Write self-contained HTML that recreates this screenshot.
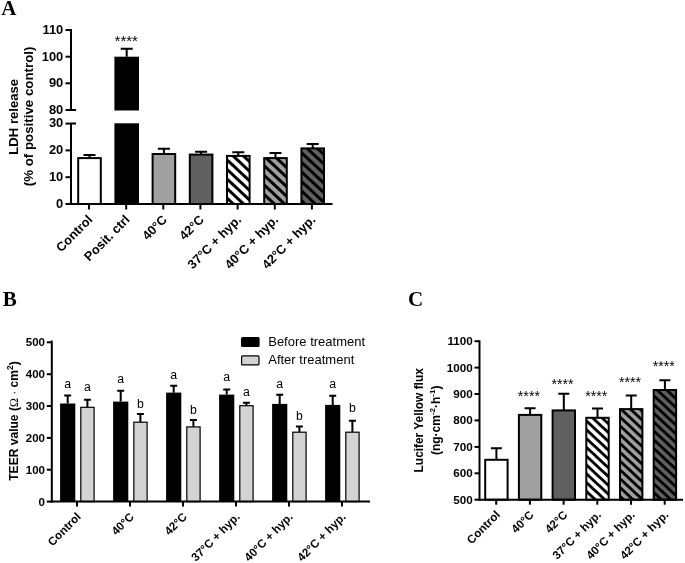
<!DOCTYPE html><html><head><meta charset="utf-8"><title>Figure</title>
<style>html,body{margin:0;padding:0;background:#fff}svg{display:block}text{font-family:'Liberation Sans',Arial,sans-serif;fill:#000}.ser{font-family:"Liberation Serif","Times New Roman",serif}</style></head><body>
<svg width="685" height="563" viewBox="0 0 685 563">
<rect width="685" height="563" fill="#fff"/>
<defs>
<pattern id="ha1" patternUnits="userSpaceOnUse" width="40" height="7.0" patternTransform="translate(0 3.5) rotate(43)"><rect width="40" height="7.0" fill="#fff"/><rect width="40" height="3.0" fill="#000"/></pattern>
<pattern id="ha2" patternUnits="userSpaceOnUse" width="40" height="7.0" patternTransform="translate(0 3.5) rotate(43)"><rect width="40" height="7.0" fill="#a0a0a0"/><rect width="40" height="3.0" fill="#000"/></pattern>
<pattern id="ha3" patternUnits="userSpaceOnUse" width="40" height="7.0" patternTransform="translate(0 3.5) rotate(43)"><rect width="40" height="7.0" fill="#606060"/><rect width="40" height="3.0" fill="#000"/></pattern>
<pattern id="hc1" patternUnits="userSpaceOnUse" width="40" height="6.44" patternTransform="translate(0 4.2) rotate(43)"><rect width="40" height="6.44" fill="#fff"/><rect width="40" height="2.85" fill="#000"/></pattern>
<pattern id="hc2" patternUnits="userSpaceOnUse" width="40" height="6.44" patternTransform="translate(0 4.2) rotate(43)"><rect width="40" height="6.44" fill="#a0a0a0"/><rect width="40" height="2.85" fill="#000"/></pattern>
<pattern id="hc3" patternUnits="userSpaceOnUse" width="40" height="6.44" patternTransform="translate(0 4.2) rotate(43)"><rect width="40" height="6.44" fill="#606060"/><rect width="40" height="2.85" fill="#000"/></pattern>
</defs>
<text class="ser" x="1.3" y="15.3" font-size="21" font-weight="bold">A</text>
<text class="ser" x="2.8" y="305.5" font-size="21" font-weight="bold">B</text>
<text class="ser" x="408" y="305.5" font-size="21" font-weight="bold">C</text>
<path d="M89.5 158.06799999999998V154.88799999999998M83.5 154.88799999999998H95.5" stroke="#000" stroke-width="2" fill="none"/>
<rect x="78.2" y="158.1" width="22.6" height="45.9" fill="#fff" stroke="#000" stroke-width="2"/>
<path d="M126.7 56.660000000000004V48.659000000000006M120.7 48.659000000000006H132.7" stroke="#000" stroke-width="2" fill="none"/>
<rect x="114.4" y="56.7" width="24.6" height="53.8" fill="#000"/>
<rect x="114.4" y="123.3" width="24.6" height="80.7" fill="#000"/>
<path d="M163.9 154.048V148.724M157.9 148.724H169.9" stroke="#000" stroke-width="2" fill="none"/>
<rect x="152.6" y="154.0" width="22.6" height="50.0" fill="#a0a0a0" stroke="#000" stroke-width="2"/>
<path d="M201.10000000000002 154.584V151.67199999999997M195.10000000000002 151.67199999999997H207.10000000000002" stroke="#000" stroke-width="2" fill="none"/>
<rect x="189.8" y="154.6" width="22.6" height="49.4" fill="#606060" stroke="#000" stroke-width="2"/>
<path d="M238.3 155.92399999999998V152.208M232.3 152.208H244.3" stroke="#000" stroke-width="2" fill="none"/>
<rect x="227.0" y="155.9" width="22.6" height="48.1" fill="url(#ha1)" stroke="#000" stroke-width="2"/>
<path d="M275.5 158.06799999999998V153.01199999999997M269.5 153.01199999999997H281.5" stroke="#000" stroke-width="2" fill="none"/>
<rect x="264.2" y="158.1" width="22.6" height="45.9" fill="url(#ha2)" stroke="#000" stroke-width="2"/>
<path d="M312.70000000000005 148.42V143.89999999999998M306.70000000000005 143.89999999999998H318.70000000000005" stroke="#000" stroke-width="2" fill="none"/>
<rect x="301.4" y="148.4" width="22.6" height="55.6" fill="url(#ha3)" stroke="#000" stroke-width="2"/>
<path d="M71 29V111M71 123V205.0" stroke="#000" stroke-width="2" fill="none"/>
<path d="M70 204.0H332.5" stroke="#000" stroke-width="2" fill="none"/>
<path d="M65.5 110.0H71" stroke="#000" stroke-width="2"/>
<text transform="translate(63.3 113.8) scale(1.06 1)" font-size="12.2" font-weight="bold" text-anchor="end">80</text>
<path d="M65.5 83.3H71" stroke="#000" stroke-width="2"/>
<text transform="translate(63.3 87.1) scale(1.06 1)" font-size="12.2" font-weight="bold" text-anchor="end">90</text>
<path d="M65.5 56.7H71" stroke="#000" stroke-width="2"/>
<text transform="translate(63.3 60.5) scale(1.06 1)" font-size="12.2" font-weight="bold" text-anchor="end">100</text>
<path d="M65.5 30.0H71" stroke="#000" stroke-width="2"/>
<text transform="translate(63.3 33.8) scale(1.06 1)" font-size="12.2" font-weight="bold" text-anchor="end">110</text>
<path d="M65.5 204.0H71" stroke="#000" stroke-width="2"/>
<text transform="translate(63.3 207.8) scale(1.06 1)" font-size="12.2" font-weight="bold" text-anchor="end">0</text>
<path d="M65.5 177.2H71" stroke="#000" stroke-width="2"/>
<text transform="translate(63.3 181.0) scale(1.06 1)" font-size="12.2" font-weight="bold" text-anchor="end">10</text>
<path d="M65.5 150.4H71" stroke="#000" stroke-width="2"/>
<text transform="translate(63.3 154.2) scale(1.06 1)" font-size="12.2" font-weight="bold" text-anchor="end">20</text>
<path d="M65.5 123.6H71" stroke="#000" stroke-width="2"/>
<text transform="translate(63.3 127.4) scale(1.06 1)" font-size="12.2" font-weight="bold" text-anchor="end">30</text>
<path d="M71 110.0H76M71 123.6H76" stroke="#000" stroke-width="2"/>
<path d="M89.0 204.0V209.5" stroke="#000" stroke-width="2"/>
<path d="M126.2 204.0V209.5" stroke="#000" stroke-width="2"/>
<path d="M163.3 204.0V209.5" stroke="#000" stroke-width="2"/>
<path d="M200.4 204.0V209.5" stroke="#000" stroke-width="2"/>
<path d="M237.6 204.0V209.5" stroke="#000" stroke-width="2"/>
<path d="M274.8 204.0V209.5" stroke="#000" stroke-width="2"/>
<path d="M311.9 204.0V209.5" stroke="#000" stroke-width="2"/>
<text x="93.4" y="220.5" font-size="12.8" font-weight="bold" text-anchor="end" transform="rotate(-45 93.4 220.5)">Control</text>
<text x="130.6" y="220.5" font-size="12.8" font-weight="bold" text-anchor="end" transform="rotate(-45 130.6 220.5)">Posit. ctrl</text>
<text x="167.7" y="220.5" font-size="12.8" font-weight="bold" text-anchor="end" transform="rotate(-45 167.7 220.5)">40°C</text>
<text x="204.8" y="220.5" font-size="12.8" font-weight="bold" text-anchor="end" transform="rotate(-45 204.8 220.5)">42°C</text>
<text x="242.0" y="220.5" font-size="12.8" font-weight="bold" text-anchor="end" transform="rotate(-45 242.0 220.5)">37°C + hyp.</text>
<text x="279.1" y="220.5" font-size="12.8" font-weight="bold" text-anchor="end" transform="rotate(-45 279.1 220.5)">40°C + hyp.</text>
<text x="316.3" y="220.5" font-size="12.8" font-weight="bold" text-anchor="end" transform="rotate(-45 316.3 220.5)">42°C + hyp.</text>
<text x="126.3" y="46" font-size="15" font-weight="normal" text-anchor="middle">****</text>
<text x="18" y="116.8" font-size="13.1" font-weight="bold" text-anchor="middle" transform="rotate(-90 18 116.8)">LDH release</text>
<text x="33" y="116.4" font-size="13.3" font-weight="bold" text-anchor="middle" transform="rotate(-90 33 116.4)">(% of positive control)</text>
<path d="M51.8 340.5V502.6" stroke="#000" stroke-width="2" fill="none"/>
<path d="M67.69999999999999 403.4712V395.50620000000004M64.19999999999999 395.50620000000004H71.19999999999999" stroke="#000" stroke-width="2" fill="none"/>
<rect x="60.1" y="403.5" width="15.2" height="98.1" fill="#000"/>
<path d="M87.4 407.1351V399.648M83.9 399.648H90.9" stroke="#000" stroke-width="2" fill="none"/>
<rect x="80.8" y="407.3" width="13.3" height="94.3" fill="#d3d3d3" stroke="#000" stroke-width="1.2"/>
<text x="67.7" y="388" font-size="12.3" font-weight="normal" text-anchor="middle">a</text>
<text x="87.4" y="391" font-size="12.3" font-weight="normal" text-anchor="middle">a</text>
<path d="M77.0 501.6V506.6" stroke="#000" stroke-width="2"/>
<path d="M120.7 401.55960000000005V390.72720000000004M117.2 390.72720000000004H124.2" stroke="#000" stroke-width="2" fill="none"/>
<rect x="113.1" y="401.6" width="15.2" height="100.0" fill="#000"/>
<path d="M140.4 421.95000000000005V413.985M136.9 413.985H143.9" stroke="#000" stroke-width="2" fill="none"/>
<rect x="133.8" y="422.2" width="13.3" height="79.4" fill="#d3d3d3" stroke="#000" stroke-width="1.2"/>
<text x="120.7" y="382.6" font-size="12.3" font-weight="normal" text-anchor="middle">a</text>
<text x="140.4" y="408.2" font-size="12.3" font-weight="normal" text-anchor="middle">b</text>
<path d="M130.0 501.6V506.6" stroke="#000" stroke-width="2"/>
<path d="M173.70000000000002 392.63880000000006V385.62960000000004M170.20000000000002 385.62960000000004H177.20000000000002" stroke="#000" stroke-width="2" fill="none"/>
<rect x="166.1" y="392.6" width="15.2" height="109.0" fill="#000"/>
<path d="M193.4 426.72900000000004V419.8791M189.9 419.8791H196.9" stroke="#000" stroke-width="2" fill="none"/>
<rect x="186.8" y="426.9" width="13.3" height="74.7" fill="#d3d3d3" stroke="#000" stroke-width="1.2"/>
<text x="173.7" y="379" font-size="12.3" font-weight="normal" text-anchor="middle">a</text>
<text x="193.4" y="413.8" font-size="12.3" font-weight="normal" text-anchor="middle">b</text>
<path d="M183.0 501.6V506.6" stroke="#000" stroke-width="2"/>
<path d="M226.70000000000002 394.5504V389.61210000000005M223.20000000000002 389.61210000000005H230.20000000000002" stroke="#000" stroke-width="2" fill="none"/>
<rect x="219.1" y="394.6" width="15.2" height="107.0" fill="#000"/>
<path d="M246.4 405.5421V402.83400000000006M242.9 402.83400000000006H249.9" stroke="#000" stroke-width="2" fill="none"/>
<rect x="239.8" y="405.7" width="13.3" height="95.9" fill="#d3d3d3" stroke="#000" stroke-width="1.2"/>
<text x="226.7" y="381" font-size="12.3" font-weight="normal" text-anchor="middle">a</text>
<text x="246.4" y="396.2" font-size="12.3" font-weight="normal" text-anchor="middle">a</text>
<path d="M236.0 501.6V506.6" stroke="#000" stroke-width="2"/>
<path d="M279.70000000000005 403.94910000000004V394.869M276.20000000000005 394.869H283.20000000000005" stroke="#000" stroke-width="2" fill="none"/>
<rect x="272.1" y="403.9" width="15.2" height="97.7" fill="#000"/>
<path d="M299.4 431.9859V426.41040000000004M295.9 426.41040000000004H302.9" stroke="#000" stroke-width="2" fill="none"/>
<rect x="292.8" y="432.2" width="13.3" height="69.4" fill="#d3d3d3" stroke="#000" stroke-width="1.2"/>
<text x="279.7" y="387.6" font-size="12.3" font-weight="normal" text-anchor="middle">a</text>
<text x="299.4" y="419.8" font-size="12.3" font-weight="normal" text-anchor="middle">b</text>
<path d="M289.0 501.6V506.6" stroke="#000" stroke-width="2"/>
<path d="M332.70000000000005 404.9049V395.82480000000004M329.20000000000005 395.82480000000004H336.20000000000005" stroke="#000" stroke-width="2" fill="none"/>
<rect x="325.1" y="404.9" width="15.2" height="96.7" fill="#000"/>
<path d="M352.4 431.9859V420.67560000000003M348.9 420.67560000000003H355.9" stroke="#000" stroke-width="2" fill="none"/>
<rect x="345.8" y="432.2" width="13.3" height="69.4" fill="#d3d3d3" stroke="#000" stroke-width="1.2"/>
<text x="332.7" y="388" font-size="12.3" font-weight="normal" text-anchor="middle">a</text>
<text x="352.4" y="412.4" font-size="12.3" font-weight="normal" text-anchor="middle">b</text>
<path d="M342.0 501.6V506.6" stroke="#000" stroke-width="2"/>
<path d="M50.8 501.6H370" stroke="#000" stroke-width="2" fill="none"/>
<path d="M46.8 501.6H51.8" stroke="#000" stroke-width="2"/>
<text transform="translate(45 505.5) scale(1.07 1)" font-size="10.8" font-weight="bold" text-anchor="end">0</text>
<path d="M46.8 469.7H51.8" stroke="#000" stroke-width="2"/>
<text transform="translate(45 473.6) scale(1.07 1)" font-size="10.8" font-weight="bold" text-anchor="end">100</text>
<path d="M46.8 437.9H51.8" stroke="#000" stroke-width="2"/>
<text transform="translate(45 441.8) scale(1.07 1)" font-size="10.8" font-weight="bold" text-anchor="end">200</text>
<path d="M46.8 406.0H51.8" stroke="#000" stroke-width="2"/>
<text transform="translate(45 409.9) scale(1.07 1)" font-size="10.8" font-weight="bold" text-anchor="end">300</text>
<path d="M46.8 374.2H51.8" stroke="#000" stroke-width="2"/>
<text transform="translate(45 378.1) scale(1.07 1)" font-size="10.8" font-weight="bold" text-anchor="end">400</text>
<path d="M46.8 342.3H51.8" stroke="#000" stroke-width="2"/>
<text transform="translate(45 346.2) scale(1.07 1)" font-size="10.8" font-weight="bold" text-anchor="end">500</text>
<text x="81.6" y="517.5" font-size="11.6" font-weight="bold" text-anchor="end" transform="rotate(-45 81.6 517.5)">Control</text>
<text x="134.6" y="517.5" font-size="11.6" font-weight="bold" text-anchor="end" transform="rotate(-45 134.6 517.5)">40°C</text>
<text x="187.6" y="517.5" font-size="11.6" font-weight="bold" text-anchor="end" transform="rotate(-45 187.6 517.5)">42°C</text>
<text x="240.6" y="517.5" font-size="11.6" font-weight="bold" text-anchor="end" transform="rotate(-45 240.6 517.5)">37°C + hyp.</text>
<text x="293.6" y="517.5" font-size="11.6" font-weight="bold" text-anchor="end" transform="rotate(-45 293.6 517.5)">40°C + hyp.</text>
<text x="346.6" y="517.5" font-size="11.6" font-weight="bold" text-anchor="end" transform="rotate(-45 346.6 517.5)">42°C + hyp.</text>
<rect x="241" y="337" width="18.6" height="10" rx="1.5" fill="#000"/>
<rect x="241.6" y="355.9" width="17.4" height="9" rx="1" fill="#d3d3d3" stroke="#000" stroke-width="1.2"/>
<text transform="translate(268.2 346) scale(1.085 1)" font-size="12" font-weight="normal" text-anchor="start">Before treatment</text>
<text transform="translate(268.2 364) scale(1.085 1)" font-size="12" font-weight="normal" text-anchor="start">After treatment</text>
<text x="18.3" y="421" font-size="12.05" font-weight="bold" text-anchor="middle" transform="rotate(-90 18.3 421)">TEER value (<tspan class="ser" font-weight="normal">Ω</tspan> <tspan font-weight="normal">·</tspan> cm<tspan font-size="8.5" dy="-5.5">2</tspan><tspan dy="5.5">)</tspan></text>
<path d="M479.5 340.4V500.7" stroke="#000" stroke-width="2" fill="none"/>
<path d="M496.4 459.7774V448.181M490.9 448.181H501.9" stroke="#000" stroke-width="2" fill="none"/>
<rect x="485.2" y="459.8" width="22.4" height="39.9" fill="#fff" stroke="#000" stroke-width="2"/>
<path d="M496.2 499.7V504.7" stroke="#000" stroke-width="2"/>
<path d="M530.1 414.94266V408.28679999999997M524.6 408.28679999999997H535.6" stroke="#000" stroke-width="2" fill="none"/>
<rect x="518.9" y="414.9" width="22.4" height="84.8" fill="#a0a0a0" stroke="#000" stroke-width="2"/>
<path d="M529.9 499.7V504.7" stroke="#000" stroke-width="2"/>
<path d="M563.8 410.37199999999996V393.83506M558.3 393.83506H569.3" stroke="#000" stroke-width="2" fill="none"/>
<rect x="552.6" y="410.4" width="22.4" height="89.3" fill="#606060" stroke="#000" stroke-width="2"/>
<path d="M563.6 499.7V504.7" stroke="#000" stroke-width="2"/>
<path d="M597.5 417.76959999999997V408.551M592.0 408.551H603.0" stroke="#000" stroke-width="2" fill="none"/>
<rect x="586.3" y="417.8" width="22.4" height="81.9" fill="url(#hc1)" stroke="#000" stroke-width="2"/>
<path d="M597.3 499.7V504.7" stroke="#000" stroke-width="2"/>
<path d="M631.2 409.051V395.60519999999997M625.7 395.60519999999997H636.7" stroke="#000" stroke-width="2" fill="none"/>
<rect x="620.0" y="409.1" width="22.4" height="90.6" fill="url(#hc2)" stroke="#000" stroke-width="2"/>
<path d="M631.0 499.7V504.7" stroke="#000" stroke-width="2"/>
<path d="M664.9 390.0286V380.2816M659.4 380.2816H670.4" stroke="#000" stroke-width="2" fill="none"/>
<rect x="653.7" y="390.0" width="22.4" height="109.7" fill="url(#hc3)" stroke="#000" stroke-width="2"/>
<path d="M664.7 499.7V504.7" stroke="#000" stroke-width="2"/>
<path d="M478.5 499.7H683" stroke="#000" stroke-width="2" fill="none"/>
<path d="M474.5 499.7H479.5" stroke="#000" stroke-width="2"/>
<text transform="translate(472.8 503.7) scale(1.08 1)" font-size="10.8" font-weight="bold" text-anchor="end">500</text>
<path d="M474.5 473.3H479.5" stroke="#000" stroke-width="2"/>
<text transform="translate(472.8 477.3) scale(1.08 1)" font-size="10.8" font-weight="bold" text-anchor="end">600</text>
<path d="M474.5 446.9H479.5" stroke="#000" stroke-width="2"/>
<text transform="translate(472.8 450.9) scale(1.08 1)" font-size="10.8" font-weight="bold" text-anchor="end">700</text>
<path d="M474.5 420.4H479.5" stroke="#000" stroke-width="2"/>
<text transform="translate(472.8 424.4) scale(1.08 1)" font-size="10.8" font-weight="bold" text-anchor="end">800</text>
<path d="M474.5 394.0H479.5" stroke="#000" stroke-width="2"/>
<text transform="translate(472.8 398.0) scale(1.08 1)" font-size="10.8" font-weight="bold" text-anchor="end">900</text>
<path d="M474.5 367.6H479.5" stroke="#000" stroke-width="2"/>
<text transform="translate(472.8 371.6) scale(1.08 1)" font-size="10.8" font-weight="bold" text-anchor="end">1000</text>
<path d="M474.5 341.2H479.5" stroke="#000" stroke-width="2"/>
<text transform="translate(472.8 345.2) scale(1.08 1)" font-size="10.8" font-weight="bold" text-anchor="end">1100</text>
<text x="500.7" y="515.5" font-size="11.6" font-weight="bold" text-anchor="end" transform="rotate(-45 500.7 515.5)">Control</text>
<text x="534.4" y="515.5" font-size="11.6" font-weight="bold" text-anchor="end" transform="rotate(-45 534.4 515.5)">40°C</text>
<text x="568.1" y="515.5" font-size="11.6" font-weight="bold" text-anchor="end" transform="rotate(-45 568.1 515.5)">42°C</text>
<text x="601.8" y="515.5" font-size="11.6" font-weight="bold" text-anchor="end" transform="rotate(-45 601.8 515.5)">37°C + hyp.</text>
<text x="635.5" y="515.5" font-size="11.6" font-weight="bold" text-anchor="end" transform="rotate(-45 635.5 515.5)">40°C + hyp.</text>
<text x="669.2" y="515.5" font-size="11.6" font-weight="bold" text-anchor="end" transform="rotate(-45 669.2 515.5)">42°C + hyp.</text>
<text x="528.9" y="401.3" font-size="14.2" font-weight="normal" text-anchor="middle">****</text>
<text x="562.6" y="388.8" font-size="14.2" font-weight="normal" text-anchor="middle">****</text>
<text x="596.3" y="400.8" font-size="14.2" font-weight="normal" text-anchor="middle">****</text>
<text x="630.0" y="386.8" font-size="14.2" font-weight="normal" text-anchor="middle">****</text>
<text x="663.7" y="370.5" font-size="14.2" font-weight="normal" text-anchor="middle">****</text>
<text x="423.5" y="420.3" font-size="11.9" font-weight="bold" text-anchor="middle" transform="rotate(-90 423.5 420.3)">Lucifer Yellow flux</text>
<text x="440" y="420.1" font-size="12" font-weight="bold" text-anchor="middle" transform="rotate(-90 440 420.3)">(ng·cm<tspan font-size="8" dy="-4.5">-2</tspan><tspan dy="4.5">·h</tspan><tspan font-size="8" dy="-4.5">-1</tspan><tspan dy="4.5">)</tspan></text>
</svg></body></html>
